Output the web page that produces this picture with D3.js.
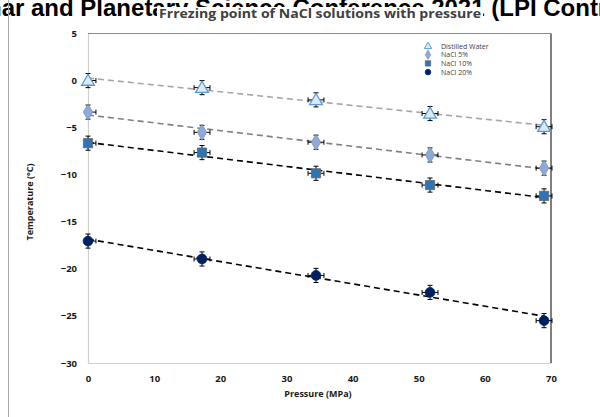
<!DOCTYPE html>
<html>
<head>
<meta charset="utf-8">
<script src="https://cdn.jsdelivr.net/npm/d3@7"></script>
<style>
  html, body { margin: 0; padding: 0; background: #fff; }
  svg { display: block; }
</style>
</head>
<body>
<svg id="chart" width="600" height="417"></svg>
<script>
// ---- data ----
const pressures = [0, 17.24, 34.47, 51.71, 68.95];
const seriesNames = ["Distilled Water", "NaCl 5%", "NaCl 10%", "NaCl 20%"];
const distilledWater = [0.0, -0.75, -2.05, -3.5, -4.9];
const nacl5 = [-3.35, -5.5, -6.55, -7.9, -9.3];
const nacl10 = [-6.65, -7.65, -9.85, -11.1, -12.25];
const nacl20 = [-17.05, -18.95, -20.7, -22.5, -25.5];
const tempError = 0.75;
const pressureError = 1.2;
const xTicks = [0, 10, 20, 30, 40, 50, 60, 70];
const yTicks = [5, 0, -5, -10, -15, -20, -25, -30];
const chartTitle = "Frrezing point of NaCl solutions with pressure";
const bannerText = "Lunar and Planetary Science Conference 2021 (LPI Contrib. No. 2548)";
const xTitle = "Pressure (MPa)";
const yTitle = "Temperature (°C)";

const allSeries = [distilledWater, nacl5, nacl10, nacl20];
const styles = [
  {shape: d3.symbolTriangle, size: 70, fill: "#dceaf7", stroke: "#5b9bd5", line: "#a6a6a6"},
  {shape: d3.symbolDiamond, size: 75, fill: "#8ea9db", stroke: "#7f8fa8", line: "#808080"},
  {shape: d3.symbolSquare, size: 85, fill: "#2e75b6", stroke: "#666666", line: "#000000"},
  {shape: d3.symbolCircle, size: 75, fill: "#002060", stroke: "#002060", line: "#000000"}
];

const svg = d3.select("#chart");

// background banner text (cut off at top and sides)
const bannerFont = "'Liberation Sans', Arial, sans-serif";
const banner = svg.append("text")
  .attr("y", 16)
  .attr("font-family", bannerFont)
  .attr("font-weight", "bold")
  .attr("font-size", 24)
  .attr("fill", "#000")
  .text(bannerText);
const tmp = svg.append("text").attr("font-family", bannerFont)
  .attr("font-weight", "bold").attr("font-size", 24).text("Lu");
const luW = tmp.node().getComputedTextLength();
tmp.remove();
banner.attr("x", -luW - 13);

// outer frame line at left
svg.append("line").attr("x1", 8.5).attr("x2", 8.5).attr("y1", 0).attr("y2", 417)
  .attr("stroke", "#a6a6a6").attr("stroke-width", 1);

const x = d3.scaleLinear().domain([0, 70]).range([88, 551]);
const y = d3.scaleLinear().domain([-30, 5]).range([363, 33.5]);

// title with white backing box
svg.append("rect").attr("x", 157).attr("y", 7).attr("width", 326).attr("height", 17).attr("fill", "#fff");
svg.append("text")
  .attr("x", 320).attr("y", 18)
  .attr("text-anchor", "middle")
  .attr("font-family", "'Open Sans', sans-serif")
  .attr("font-weight", "bold")
  .attr("font-size", 12.5)
  .attr("fill", "#404040")
  .attr("textLength", 322)
  .attr("lengthAdjust", "spacingAndGlyphs")
  .text(chartTitle);

// plot frame: top and right dark, left & bottom light axes
svg.append("line").attr("x1", x(0)).attr("x2", x(70)).attr("y1", y(5)).attr("y2", y(5))
  .attr("stroke", "#8c8c8c").attr("stroke-width", 1.2);
svg.append("line").attr("x1", x(70)).attr("x2", x(70)).attr("y1", y(5)).attr("y2", y(-30))
  .attr("stroke", "#7f7f7f").attr("stroke-width", 2);

// axes
const fontTick = "'Open Sans', sans-serif";
const yAxis = svg.append("g").attr("transform", `translate(${x(0)},0)`)
  .call(d3.axisLeft(y).tickValues(yTicks).tickSize(0).tickPadding(11));
const xAxis = svg.append("g").attr("transform", `translate(0,${y(-30)})`)
  .call(d3.axisBottom(x).tickValues(xTicks).tickSize(0).tickPadding(12));
[yAxis, xAxis].forEach(g => {
  g.select(".domain").attr("stroke", "#d0d0d0").attr("stroke-width", 1.2);
  g.selectAll("text").attr("font-family", fontTick).attr("font-weight", "bold")
    .attr("font-size", 9.5).attr("fill", "#1a1a1a");
});

// axis titles
svg.append("text")
  .attr("x", 318).attr("y", 397)
  .attr("text-anchor", "middle")
  .attr("font-family", fontTick).attr("font-weight", "bold").attr("font-size", 9)
  .attr("fill", "#1a1a1a")
  .text(xTitle);
svg.append("text")
  .attr("transform", "translate(33,202) rotate(-90)")
  .attr("text-anchor", "middle")
  .attr("font-family", fontTick).attr("font-weight", "bold").attr("font-size", 9)
  .attr("fill", "#1a1a1a")
  .text(yTitle);

// linear trendlines (least squares)
function fit(xs, ys) {
  const n = xs.length;
  const mx = d3.mean(xs), my = d3.mean(ys);
  let sxy = 0, sxx = 0;
  for (let i = 0; i < n; i++) { sxy += (xs[i] - mx) * (ys[i] - my); sxx += (xs[i] - mx) ** 2; }
  const b = sxy / sxx;
  return {a: my - b * mx, b};
}
allSeries.forEach((vals, si) => {
  const f = fit(pressures, vals);
  const x0 = d3.min(pressures), x1 = d3.max(pressures);
  svg.append("line")
    .attr("x1", x(x0)).attr("y1", y(f.a + f.b * x0))
    .attr("x2", x(x1)).attr("y2", y(f.a + f.b * x1))
    .attr("stroke", styles[si].line)
    .attr("stroke-width", 1.6)
    .attr("stroke-dasharray", "6,4");
});

// error bars and markers
allSeries.forEach((vals, si) => {
  const g = svg.append("g");
  const st = styles[si];
  vals.forEach((v, i) => {
    const px = x(pressures[i]), py = y(v);
    const eb = g.append("g").attr("stroke", "#000").attr("stroke-width", 1);
    eb.append("line").attr("x1", px).attr("x2", px).attr("y1", y(v + tempError)).attr("y2", y(v - tempError));
    eb.append("line").attr("x1", px - 2.5).attr("x2", px + 2.5).attr("y1", y(v + tempError)).attr("y2", y(v + tempError));
    eb.append("line").attr("x1", px - 2.5).attr("x2", px + 2.5).attr("y1", y(v - tempError)).attr("y2", y(v - tempError));
    const xl = x(Math.max(0, pressures[i] - pressureError));
    const xr = x(pressures[i] + pressureError);
    eb.append("line").attr("x1", xl).attr("x2", xr).attr("y1", py).attr("y2", py);
    if (pressures[i] - pressureError > 0)
      eb.append("line").attr("x1", xl).attr("x2", xl).attr("y1", py - 2.5).attr("y2", py + 2.5);
    eb.append("line").attr("x1", xr).attr("x2", xr).attr("y1", py - 2.5).attr("y2", py + 2.5);
  });
  g.selectAll("path.mk").data(vals).join("path")
    .attr("class", "mk")
    .attr("d", d3.symbol().type(st.shape).size(st.size))
    .attr("transform", (v, i) => `translate(${x(pressures[i])},${y(v) + (si === 0 ? 1 : 0)})`)
    .attr("fill", st.fill)
    .attr("stroke", st.stroke)
    .attr("stroke-width", si === 0 ? 1.3 : 0.8);
});

// legend
const legend = svg.append("g");
seriesNames.forEach((name, i) => {
  const ly = 46 + i * 8.7;
  const st = styles[i];
  legend.append("path")
    .attr("d", d3.symbol().type(st.shape).size(st.size * 0.35))
    .attr("transform", `translate(428,${ly + (i === 0 ? 0.5 : 0)})`)
    .attr("fill", st.fill).attr("stroke", st.stroke).attr("stroke-width", i === 0 ? 1 : 0.6);
  legend.append("text")
    .attr("x", 441).attr("y", ly + 2.5)
    .attr("font-family", "'Open Sans', sans-serif")
    .attr("font-size", 7)
    .attr("fill", "#404040")
    .text(name);
});
</script>
</body>
</html>
